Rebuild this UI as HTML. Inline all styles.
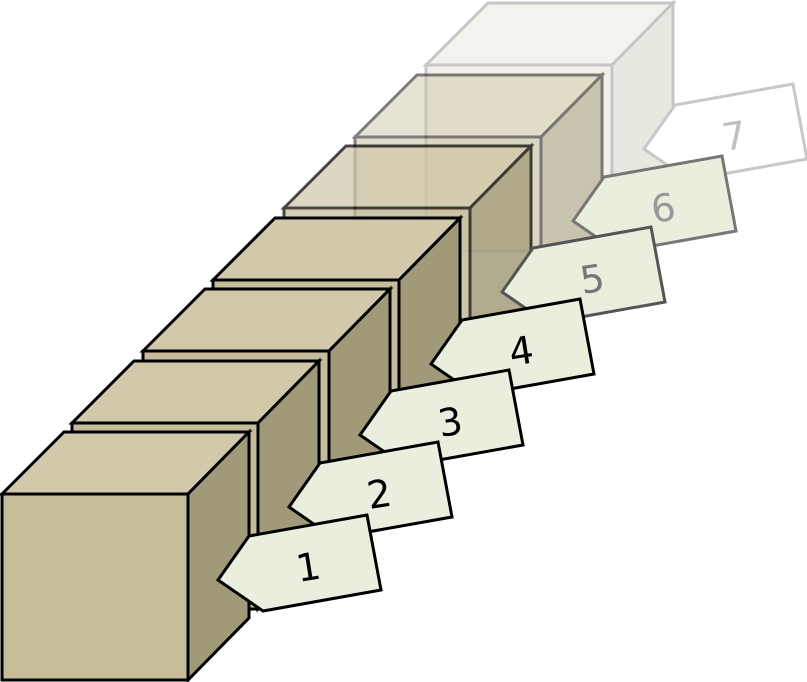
<!DOCTYPE html>
<html><head><meta charset="utf-8"><style>html,body{margin:0;padding:0;background:#fff}svg{display:block}</style></head>
<body>
<svg width="807" height="682" viewBox="0 0 807 682" xmlns="http://www.w3.org/2000/svg" font-family="DejaVu Sans, Liberation Sans, sans-serif">
<defs>
<g id="cube" stroke="#000" stroke-width="3" stroke-linejoin="miter">
<polygon points="0,0 62,-62 247,-62 186,0" fill="#d1c9aa"/>
<polygon points="186,0 247,-62 247,124 186,186" fill="#a09a78"/>
<rect x="0" y="0" width="186" height="186" fill="#c5bd98"/>
</g>
<polygon id="arr" points="218,580 249,536 367,515 381,590 263,611" stroke-width="3" stroke-linejoin="miter"/>
</defs>
<g opacity="0.22" transform="translate(426,65)"><use href="#cube"/></g>
<g transform="translate(426,-431)"><use href="#arr" fill="#fff" stroke="#c8c8c8"/><text x="308" y="580" font-size="38" text-anchor="middle" fill="#c0c0c0" transform="rotate(-9 310 565)">7</text></g>
<g opacity="0.5" transform="translate(355,137)"><use href="#cube"/></g>
<g transform="translate(355,-359)"><use href="#arr" fill="#eaeedd" stroke="#777"/><text x="308" y="580" font-size="38" text-anchor="middle" fill="#999" transform="rotate(-9 310 565)">6</text></g>
<g opacity="0.72" transform="translate(284,208)"><use href="#cube"/></g>
<g transform="translate(284,-288)"><use href="#arr" fill="#eaeedd" stroke="#555"/><text x="308" y="580" font-size="38" text-anchor="middle" fill="#777" transform="rotate(-9 310 565)">5</text></g>
<g transform="translate(213,280)"><use href="#cube"/></g>
<g transform="translate(213,-216)"><use href="#arr" fill="#eaeedd" stroke="#000"/><text x="308" y="580" font-size="38" text-anchor="middle" transform="rotate(-9 310 565)">4</text></g>
<g transform="translate(143,351)"><use href="#cube"/></g>
<g transform="translate(142,-145)"><use href="#arr" fill="#eaeedd" stroke="#000"/><text x="308" y="580" font-size="38" text-anchor="middle" transform="rotate(-9 310 565)">3</text></g>
<g transform="translate(72,423)"><use href="#cube"/></g>
<g transform="translate(71,-73)"><use href="#arr" fill="#eaeedd" stroke="#000"/><text x="308" y="580" font-size="38" text-anchor="middle" transform="rotate(-9 310 565)">2</text></g>
<g transform="translate(2,494)"><use href="#cube"/></g>
<g><use href="#arr" fill="#eaeedd" stroke="#000"/><text x="308" y="580" font-size="38" text-anchor="middle" transform="rotate(-9 310 565)">1</text></g>
</svg>
</body></html>
